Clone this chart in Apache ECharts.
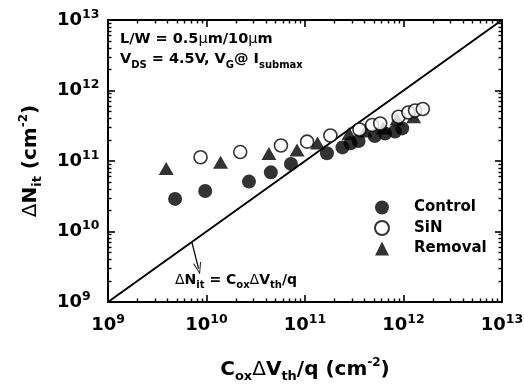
<!DOCTYPE html>
<html><head><meta charset="utf-8">
<script src="https://cdn.jsdelivr.net/npm/echarts@6/dist/echarts.min.js"></script>
<style>html,body{margin:0;padding:0;background:#fff}#c{width:524px;height:384px}</style>
</head><body><div id="c"></div>
<script>
// ---- data ----
const controlX = [4.8e9, 9.7e9, 2.7e10, 4.5e10, 7.2e10, 1.67e11, 2.4e11, 2.9e11, 3.5e11, 5.1e11, 6.5e11, 8.2e11, 9.7e11];
const controlY = [2.9e10, 3.75e10, 5.1e10, 6.9e10, 9.1e10, 1.29e11, 1.56e11, 1.78e11, 1.92e11, 2.26e11, 2.45e11, 2.62e11, 2.9e11];
const sinX = [8.7e9, 2.2e10, 5.7e10, 1.05e11, 1.81e11, 3.57e11, 4.8e11, 5.8e11, 8.9e11, 1.12e12, 1.31e12, 1.57e12];
const sinY = [1.13e11, 1.34e11, 1.66e11, 1.88e11, 2.3e11, 2.8e11, 3.24e11, 3.4e11, 4.25e11, 4.88e11, 5.2e11, 5.47e11];
const removalX = [3.9e9, 1.39e10, 4.3e10, 8.3e10, 1.34e11, 2.8e11, 4.1e11, 6.2e11, 8.6e11, 1.27e12];
const removalY = [7.8e10, 9.6e10, 1.28e11, 1.43e11, 1.8e11, 2.45e11, 2.67e11, 2.94e11, 3.95e11, 4.25e11];
const unityLine = [[1e9, 1e9], [1e13, 1e13]];
const arrowFrom = [7.1e9, 7.1e9];
const arrowTo = [8.3e9, 2.97e9];
const axisMin = 1e9, axisMax = 1e13;
const decades = [9, 10, 11, 12];
const minorMultipliers = [2, 3, 4, 5, 6, 7, 8, 9];
const seriesNames = ['Control', 'SiN', 'Removal'];

const minorTicks = [];
decades.forEach(d => minorMultipliers.forEach(k => minorTicks.push(k * Math.pow(10, d))));
const zip = (xs, ys) => xs.map((x, i) => [x, ys[i]]);

const FONT = '"DejaVu Sans", Verdana, sans-serif';
const labRich = {
  b: {fontSize: 18, fontWeight: 'bold', fontFamily: FONT, color: '#000', lineHeight: 24},
  s: {fontSize: 12.5, fontWeight: 'bold', fontFamily: FONT, color: '#000', verticalAlign: 'top'}
};
const labFmt = v => '{b|10}{s|' + Math.round(Math.log10(v)) + '}';
const nameRich = {
  m: {fontSize: 20, fontWeight: 'bold', fontFamily: FONT, color: '#000', lineHeight: 26},
  d: {fontSize: 20, fontWeight: 'normal', fontFamily: FONT, color: '#000', lineHeight: 26},
  sub: {fontSize: 13, fontWeight: 'bold', fontFamily: FONT, color: '#000', verticalAlign: 'bottom'},
  sup: {fontSize: 12, fontWeight: 'bold', fontFamily: FONT, color: '#000', verticalAlign: 'top'}
};
function axisBase(pos, major) {
  return {
    type: 'log', logBase: 10, min: axisMin, max: axisMax, position: pos,
    axisLine: {show: major, onZero: false, lineStyle: {color: '#000', width: 2}},
    axisTick: major ? {show: true, inside: true, length: 7, lineStyle: {color: '#000', width: 1.6}}
                    : {show: true, inside: true, length: 3.5, customValues: minorTicks, lineStyle: {color: '#000', width: 1.4}},
    axisLabel: {show: false},
    splitLine: {show: false},
    minorTick: {show: false},
    minorSplitLine: {show: false}
  };
}
const xMain = Object.assign(axisBase('bottom', true), {
  axisLabel: {show: true, margin: 11, formatter: labFmt, rich: labRich},
  name: '{m|C}{sub|ox}{d|Δ}{m|V}{sub|th}{m|/q (cm}{sup|-2}{m|)}',
  nameLocation: 'middle', nameGap: 55, nameTextStyle: {rich: nameRich}
});
const yMain = Object.assign(axisBase('left', true), {
  axisLabel: {show: true, margin: 51, align: 'left', formatter: labFmt, rich: labRich},
  name: '{d|Δ}{m|N}{sub|it}{m| (cm}{sup|-2}{m|)}',
  nameLocation: 'middle', nameGap: 64, nameRotate: 90, nameTextStyle: {rich: nameRich}
});

const tRich = {
  t: {fontSize: 14.5, fontWeight: 'bold', fontFamily: FONT, fill: '#000', lineHeight: 22},
  g: {fontSize: 14.5, fontWeight: 'normal', fontFamily: FONT, fill: '#000', lineHeight: 22},
  sub: {fontSize: 10, fontWeight: 'bold', fontFamily: FONT, fill: '#000', verticalAlign: 'bottom'}
};
const t2Rich = {
  t: {fontSize: 14, fontWeight: 'bold', fontFamily: FONT, fill: '#000', lineHeight: 20},
  g: {fontSize: 14, fontWeight: 'normal', fontFamily: FONT, fill: '#000', lineHeight: 20},
  sub: {fontSize: 10, fontWeight: 'bold', fontFamily: FONT, fill: '#000', verticalAlign: 'bottom'}
};

const chart = echarts.init(document.getElementById('c'), null, {renderer: 'canvas'});
chart.setOption({
  animation: false,
  backgroundColor: '#fff',
  grid: {left: 108, top: 20, width: 394, height: 282, containLabel: false, outerBoundsMode: 'none'},
  xAxis: [xMain, axisBase('bottom', false), axisBase('top', true), axisBase('top', false)],
  yAxis: [yMain, axisBase('left', false), axisBase('right', true), axisBase('right', false)],
  legend: {
    data: seriesNames,
    orient: 'vertical', left: 369, top: 195,
    itemWidth: 14, itemHeight: 14, itemGap: 5,
    textStyle: {fontSize: 15, fontWeight: 'bold', fontFamily: FONT, color: '#000', padding: [0, 0, 0, 20]}
  },
  graphic: [
    {type: 'text', left: 120, top: 32, style: {text: '{t|L/W = 0.5}{g|μ}{t|m/10}{g|μ}{t|m}', rich: tRich}},
    {type: 'text', left: 120, top: 52, style: {text: '{t|V}{sub|DS}{t| = 4.5V, V}{sub|G}{t|@ I}{sub|submax}', rich: tRich}},
    {type: 'text', left: 175, top: 273, style: {text: '{g|Δ}{t|N}{sub|it}{t| = C}{sub|ox}{g|Δ}{t|V}{sub|th}{t|/q}', rich: t2Rich}}
  ],
  series: [
    {type: 'line', data: unityLine, symbol: 'none', silent: true, z: 1,
     lineStyle: {color: '#000', width: 2},
     markLine: {silent: true, symbol: ['none', 'path://M5,0 L10,12 L8.8,12 L5,2.6 L1.2,12 L0,12 Z'], symbolSize: [8, 12],
       label: {show: false}, lineStyle: {color: '#000', width: 1.2, type: 'solid'},
       data: [[{coord: arrowFrom}, {coord: arrowTo}]]}},
    {name: seriesNames[0], type: 'scatter', data: zip(controlX, controlY), symbol: 'circle', symbolSize: 14, z: 3,
     itemStyle: {color: '#000'}},
    {name: seriesNames[2], type: 'scatter', data: zip(removalX, removalY), symbol: 'triangle', symbolSize: [15, 13], z: 4,
     itemStyle: {color: '#000'}},
    {name: seriesNames[1], type: 'scatter', data: zip(sinX, sinY), symbol: 'circle', symbolSize: 13, z: 5,
     itemStyle: {color: '#fff', borderColor: '#000', borderWidth: 1.6}}
  ]
});
</script></body></html>
